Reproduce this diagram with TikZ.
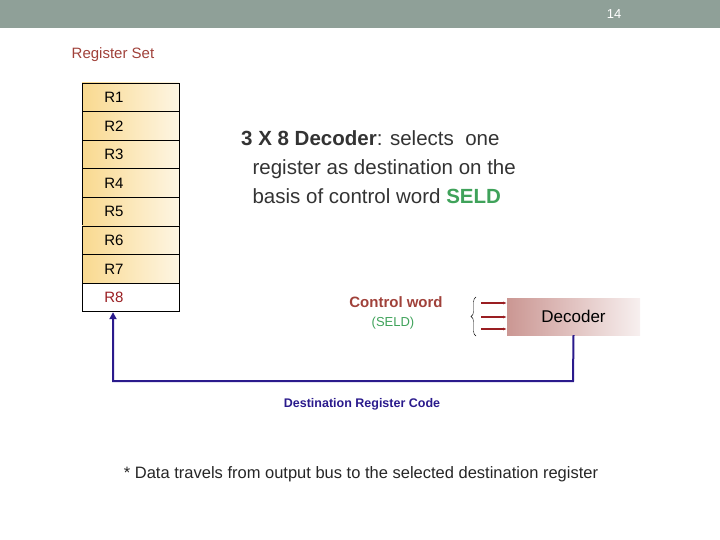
\documentclass[tikz,border=0pt]{standalone}
\usepackage{fontspec}
\setmainfont{Liberation Sans}
\usetikzlibrary{arrows.meta, decorations.pathreplacing}
\definecolor{topbar}{HTML}{8FA098}
\definecolor{regfill}{HTML}{F9D98F}
\definecolor{brownred}{HTML}{A0413A}
\definecolor{seldgreen}{HTML}{3FA25A}
\definecolor{navy}{HTML}{2A1A8C}
\definecolor{wirered}{HTML}{9A1E22}
\tikzset{
    regbox/.style={draw, thick, minimum width=97pt, minimum height=28.6pt, left color=regfill, right color=regfill!25, inner sep=0pt, font=\fontsize{15}{17}\selectfont},
}
\begin{document}
\begin{tikzpicture}[x=1pt, y=-1pt]
    \useasboundingbox (0,0) rectangle (720,540);
    % Top bar
    \fill[topbar] (0,0) rectangle (720,28);
    \node[white, font=\fontsize{13}{15}\selectfont] (page) at (614,14) {14};
    \node[brownred, font=\fontsize{15}{17}\selectfont] (title) at (113,55) {Register Set};

    % Registers
    \foreach \i in {1,...,7}
        \node[regbox] (r\i) at (130.5, {83+14.3+(\i-1)*28.6}) {\hspace{-33pt}R\i};
    \node[regbox, left color=white, right color=white, text=wirered] (r8) at (130.5, {83+14.3+7*28.6}) {\hspace{-33pt}R8};

    % Description
    \node[anchor=north west, align=left, font=\fontsize{20.5}{29}\selectfont, text=black!80, inner sep=0pt] (desc) at (241,130)
        {\textbf{3 X 8 Decoder}: selects\ \ one\\
         \ \ register as destination on the\\
         \ \ basis of control word \textcolor{seldgreen}{\textbf{SELD}}};

    % Control word
    \node[brownred, font=\fontsize{15}{17}\selectfont\bfseries] (cw) at (396,302) {Control word};
    \node[seldgreen, font=\fontsize{13}{15}\selectfont] (seld) at (393,323) {(SELD)};
    \node[left color=brownred!55, right color=brownred!8, minimum width=133pt, minimum height=37pt, font=\fontsize{17}{19}\selectfont] (dec) at (573.5,316.5) {Decoder};
    \draw[decorate, decoration={brace, amplitude=5pt}] (476,336) -- (476,297);
    \foreach \y in {303,317,329}
        \draw[wirered, line width=1.8pt, -{Latex[length=4pt]}] (481,\y) -- (507,\y);

    % Feedback wire
    \coordinate (bend1) at (573,381);
    \coordinate (bend2) at (113,381);
    \draw[navy, line width=2pt, -{Triangle[length=7pt, width=7pt]}] (dec.south) -- (bend1) -- (bend2) -- (r8.south -| bend2);
    \node[navy, font=\fontsize{12.5}{14}\selectfont\bfseries] (dest) at (362,404) {Destination Register Code};

    \node[font=\fontsize{16.5}{18}\selectfont, text=black!85] (note) at (361,474) {* Data travels from output bus to the selected destination register};
\end{tikzpicture}
\end{document}
